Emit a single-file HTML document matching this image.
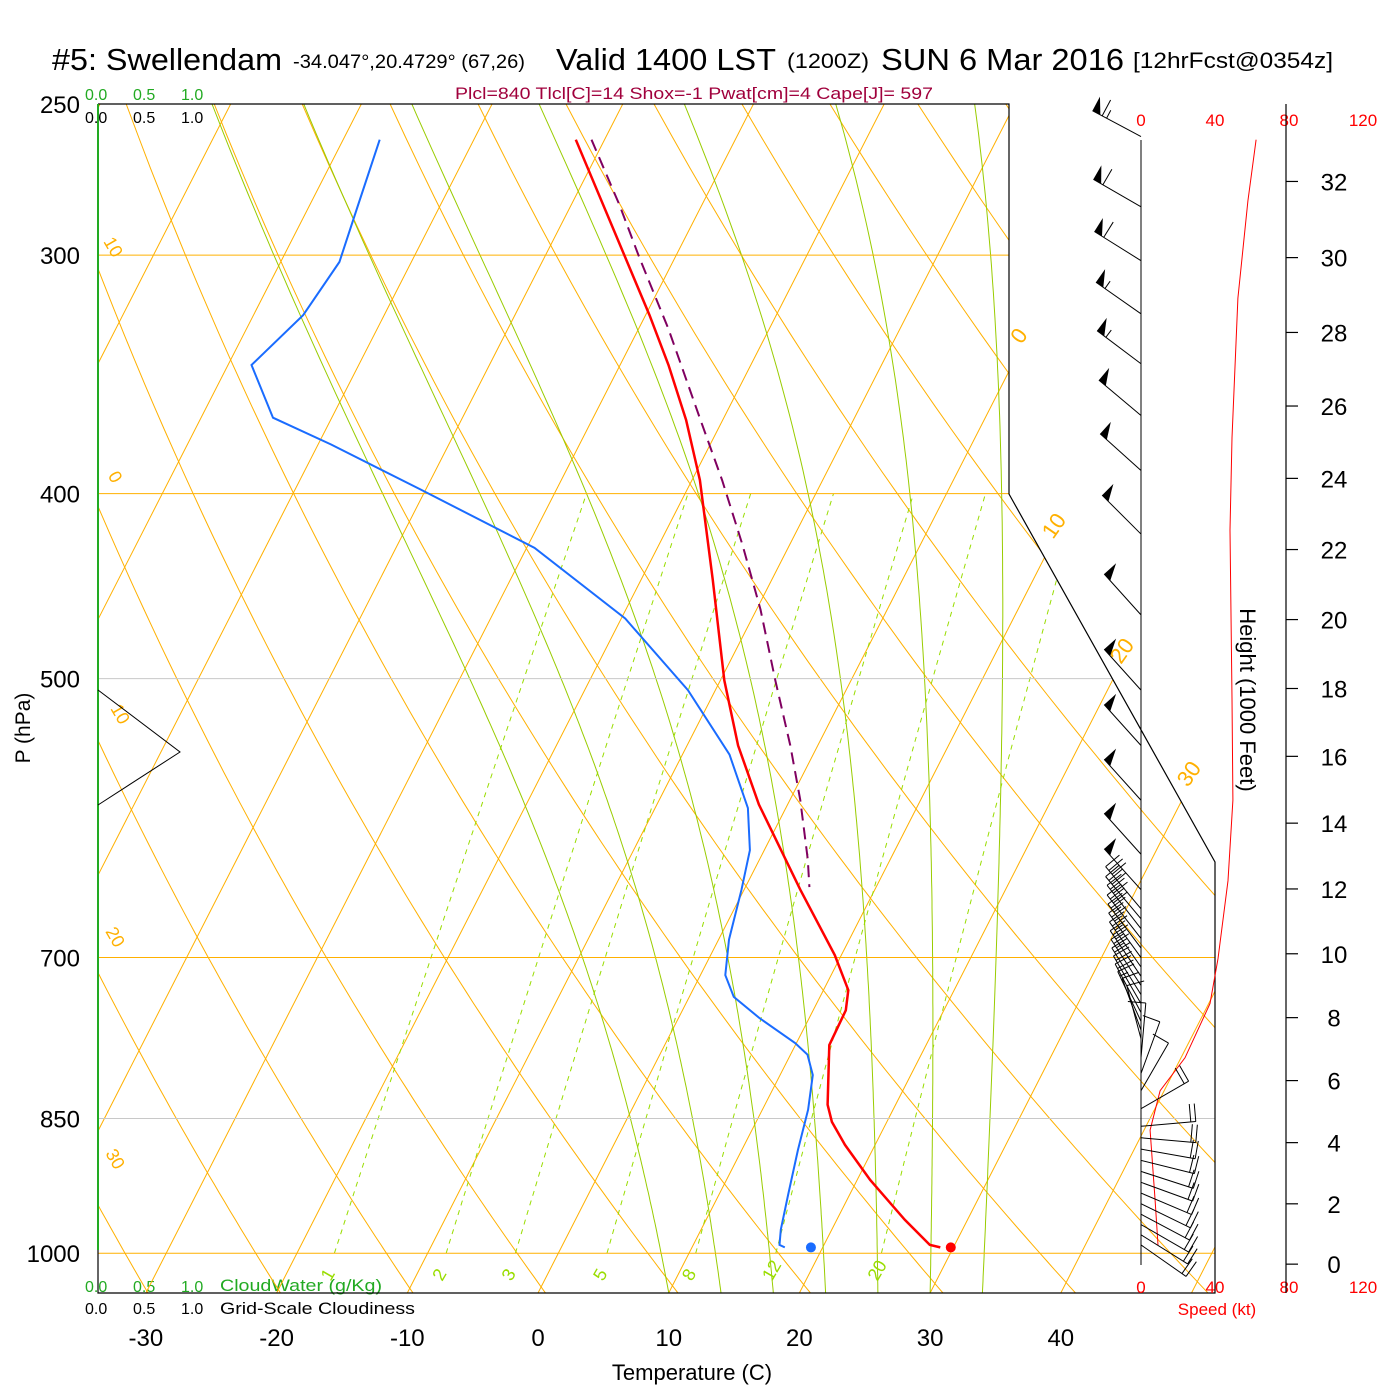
<!DOCTYPE html>
<html><head><meta charset="utf-8">
<style>
html,body{margin:0;padding:0;background:#fff;}
svg{display:block;font-family:"Liberation Sans",sans-serif;}
</style></head>
<body>
<svg id="chart" width="1400" height="1400" viewBox="0 0 1400 1400" xmlns="http://www.w3.org/2000/svg">
<defs><clipPath id="plotclip"><polygon points="98,104 1009,104 1009,494 1215,862 1215,1293 98,1293"/></clipPath></defs>
<rect width="1400" height="1400" fill="#fff"/>
<g id="title" fill="#000">
<text x="52" y="70" font-size="31" textLength="230" lengthAdjust="spacingAndGlyphs">#5: Swellendam</text>
<text x="293" y="68" font-size="19" textLength="232" lengthAdjust="spacingAndGlyphs">-34.047°,20.4729° (67,26)</text>
<text x="556" y="70" font-size="31" textLength="220" lengthAdjust="spacingAndGlyphs">Valid 1400 LST</text>
<text x="787" y="68" font-size="21" textLength="82" lengthAdjust="spacingAndGlyphs">(1200Z)</text>
<text x="881" y="70" font-size="31" textLength="243" lengthAdjust="spacingAndGlyphs">SUN 6 Mar 2016</text>
<text x="1133" y="68" font-size="22" textLength="200" lengthAdjust="spacingAndGlyphs">[12hrFcst@0354z]</text>
</g>
<text x="455" y="99" font-size="17" fill="#a0003c" textLength="478" lengthAdjust="spacingAndGlyphs">Plcl=840 Tlcl[C]=14 Shox=-1 Pwat[cm]=4 Cape[J]= 597</text>
<g font-size="16">
<text x="85" y="100" fill="#22aa22">0.0</text><text x="133" y="100" fill="#22aa22">0.5</text><text x="181" y="100" fill="#22aa22">1.0</text>
<text x="85" y="123" fill="#000">0.0</text><text x="133" y="123" fill="#000">0.5</text><text x="181" y="123" fill="#000">1.0</text>
</g>
<g font-size="16">
<text x="85" y="1292" fill="#22aa22">0.0</text><text x="133" y="1292" fill="#22aa22">0.5</text><text x="181" y="1292" fill="#22aa22">1.0</text>
<text x="220" y="1291" fill="#22aa22" font-size="17" textLength="162" lengthAdjust="spacingAndGlyphs">CloudWater (g/Kg)</text>
<text x="85" y="1314" fill="#000">0.0</text><text x="133" y="1314" fill="#000">0.5</text><text x="181" y="1314" fill="#000">1.0</text>
<text x="220" y="1314" fill="#000" font-size="17" textLength="195" lengthAdjust="spacingAndGlyphs">Grid-Scale Cloudiness</text>
</g>
<g id="bg" clip-path="url(#plotclip)"></g>
<g id="fg"></g>
<text transform="translate(30,728) rotate(-90)" font-size="21" text-anchor="middle">P (hPa)</text>
<text x="692" y="1380" font-size="22" text-anchor="middle">Temperature (C)</text>
<text transform="translate(1240,700) rotate(90)" font-size="22" text-anchor="middle">Height (1000 Feet)</text>
<text x="1217" y="1315" font-size="17" fill="#ff0000" text-anchor="middle">Speed (kt)</text>
<script>
// ---- data ----
const tempP = [261,322.5,342.5,366,393.5,444,501,542,582,645,698,728,746,778,836,853.5,877.5,915.5,960.5,990,993];
const tempT = [-42.2,-29.7,-26.3,-22.8,-19.4,-14.5,-9.7,-6.1,-2.2,4.3,9.5,11.9,12.5,12.6,14.8,15.8,17.7,21.0,25.2,28.1,29.0];
const dewP = [261,282.4,302.5,322.5,342.5,365,377,398,427,465,507,548,584.5,615,645,685,715,734,753,776,787,806.5,841,883,932,972,990,993];
const dewT = [-57.2,-56.3,-55.5,-56.2,-58.2,-54.5,-49.0,-40.4,-29.4,-19.7,-12.1,-6.4,-2.9,-1.1,-0.2,0.8,1.9,3.4,6.2,9.9,11.3,12.5,13.5,14.3,15.3,16.1,16.6,17.1];
const parcelP = [261,282.4,301,328,366,393.5,425.5,460,501,542,579,622,643];
const parcelT = [-41.0,-36.3,-32.7,-27.7,-21.7,-17.7,-13.6,-9.7,-5.8,-2.1,0.8,3.7,4.9];
const sfcTemp = [993,29.8];
const sfcDew = [993,19.1];
const speedP = [990,938,862,822,790,740,701,638,579,512,418,374,316,281,261];
const speedKt = [9.2,7.6,4.9,10.3,23.8,37.3,41.6,47,49.7,49.2,48.1,49.2,52.4,57.8,62.2];
const barbP = [260,283,302,322,342,364,389,420,463,507,542,579,618,645,660,668,676,684,692,700,708,716,724,732,740,748,756,764,772,790,805,822,840,858,870,882,894,906,918,930,942,954,966,978,990];
const barbDir = [298,300,302,305,307,310,312,315,318,318,318,318,318,318,320,320,322,322,323,324,325,326,327,328,330,332,335,340,345,5,20,30,60,85,95,100,104,108,110,113,116,118,120,122,125];
const barbSpd = [65,62,58,57,55,52,50,50,50,50,50,50,50,50,30,30,28,28,27,26,25,25,24,22,20,18,15,12,10,8,10,12,18,20,22,22,22,22,22,22,20,20,20,18,18];
const pLevels = [250,300,400,500,700,850,1000];
const pLevelOrange = [1,1,1,0,1,0,1];
const tTicks = [-30,-20,-10,0,10,20,30,40];
const hTicks = [0,2,4,6,8,10,12,14,16,18,20,22,24,26,28,30,32];
const spdTicks = [0,40,80,120];
const isoT = [-110,-100,-90,-80,-70,-60,-50,-40,-30,-20,-10,0,10,20,30,40,50];
const thetaK = [230,240,250,260,270,280,290,300,310,320,330,340,350,360,370,380,390,400,410,420,430,440,450,460,470,480];
const moistStart = [10,14,18,22,26,30,34];
const mixW = [1,2,3,5,8,12,20];

// ---- scales ----
const NS="http://www.w3.org/2000/svg";
function yP(p){return 104+829*Math.log(p/250);}
function xT(T,p){return 538+13.07*T+0.511*(1293-yP(p));}
function xSpd(s){return 1141+1.85*s;}
function pH(hk){return 1013.25*Math.pow(1-6.8756e-6*hk*1000,5.2559);}
const bg=document.getElementById('bg'), fg=document.getElementById('fg');
function el(tag,attrs,parent){const e=document.createElementNS(NS,tag);for(const k in attrs)e.setAttribute(k,attrs[k]);parent.appendChild(e);return e;}
function pts(arr){return arr.map(a=>a[0].toFixed(1)+','+a[1].toFixed(1)).join(' ');}

// isotherms
isoT.forEach(T=>{
 const e=el('line',{x1:xT(T,1050),y1:yP(1050),x2:xT(T,240),y2:yP(240),stroke:'#ffb000','stroke-width':1},bg);
 
 
});
// dry adiabats
thetaK.forEach(th=>{
 const a=[];for(let p=1050;p>=240;p-=10){a.push([xT(th*Math.pow(p/1000,0.2857)-273.15,p),yP(p)]);}
 const e=el('polyline',{points:pts(a),fill:'none',stroke:'#ffb000','stroke-width':1},bg);
 
 
});
// moist adiabats
function es(Tc){return 6.112*Math.exp(17.67*Tc/(Tc+243.5));}
moistStart.forEach(T0=>{
 let T=T0+273.15,p=1049;const a=[[xT(T0,p),yP(p)]];
 while(p>240){const e_=es(T-273.15);const rs=0.622*e_/(p-e_);const Lv=2.5e6,Rd=287,cp=1005;
  const dTdp=(1/p)*(Rd*T+Lv*rs)/(cp+(Lv*Lv*rs*0.622)/(Rd*T*T));T-=dTdp*5;p-=5;a.push([xT(T-273.15,p),yP(p)]);}
 const e=el('polyline',{points:pts(a),fill:'none',stroke:'#99cc00','stroke-width':1},bg);
 
 
});
// mixing ratio lines
mixW.forEach(w=>{
 const a=[];for(let p=1000;p>=400;p-=10){const e_=w*p/(622+w);const l=Math.log(e_/6.112);const td=243.5*l/(17.67-l);a.push([xT(td,p),yP(p)]);}
 const e=el('polyline',{points:pts(a),fill:'none',stroke:'#99dd00','stroke-width':1,'stroke-dasharray':'5,5'},bg);
 
 
 const l=Math.log((w*1000/(622+w))/6.112);const td=243.5*l/(17.67-l);
 const t=el('text',{x:xT(td,1000)-4,y:1282,'font-size':18,fill:'#99dd00',transform:'rotate(-60 '+(xT(td,1000)-4)+' 1282)'},fg);
 t.textContent=w;
 
 
});
// pressure lines & labels
pLevels.forEach((p,i)=>{
 const e=el('line',{x1:98,y1:yP(p),x2:1215,y2:yP(p),stroke:pLevelOrange[i]?'#ffb000':'#c8c8c8','stroke-width':1},bg);
 
 
 const t=el('text',{x:80,y:yP(p)+9,'font-size':24,'text-anchor':'end'},fg);
 t.textContent=p;
 
 
});
// isotherm labels
[['0',1025,340],['10',1060,530],['20',1128,655],['30',1195,778]].forEach(d=>{
 const t=el('text',{x:d[1],y:d[2],'font-size':22,fill:'#ffb000','text-anchor':'middle',transform:'rotate(-55 '+d[1]+' '+d[2]+')'},fg);
 t.textContent=d[0];
 
 
});
[['10',108,250],['0',110,480],['10',115,717],['20',110,940],['30',110,1162]].forEach(d=>{
 const t=el('text',{x:d[1],y:d[2],'font-size':18,fill:'#ffb000','text-anchor':'middle',transform:'rotate(60 '+d[1]+' '+d[2]+')'},fg);
 t.textContent=d[0];
 
 
});
// frames
const fr=el('polyline',{points:'98,104 1009,104 1009,494 1215,862 1215,1293 98,1293 98,104',fill:'none',stroke:'#000','stroke-width':1.2},fg);


const gl=el('line',{x1:98,y1:104,x2:98,y2:1250,stroke:'#22aa22','stroke-width':2},fg);


const wedge=el('polyline',{points:'98,690 180,752 98,805',fill:'none',stroke:'#000','stroke-width':1},fg);


const sa=el('line',{x1:1141,y1:140,x2:1141,y2:1265,stroke:'#000','stroke-width':1},fg);


// x ticks
tTicks.forEach(T=>{
 const t=el('text',{x:538+13.07*T,y:1346,'font-size':24,'text-anchor':'middle'},fg);
 t.textContent=T;
 
 
});
// speed ticks
spdTicks.forEach(s=>{
 [126,1293].forEach(yy=>{
 const t=el('text',{x:xSpd(s),y:yy,'font-size':17,fill:'#ff0000','text-anchor':'middle'},fg);
 t.textContent=s;
 
 
 });
});
// height axis
const ha=el('line',{x1:1286,y1:104,x2:1286,y2:1293,stroke:'#000','stroke-width':1.2},fg);


hTicks.forEach(h=>{
 const y=yP(pH(h));
 const k=el('line',{x1:1286,y1:y,x2:1298,y2:y,stroke:'#000','stroke-width':1.2},fg);
 
 
 const t=el('text',{x:1334,y:y+9,'font-size':24,'text-anchor':'middle'},fg);
 t.textContent=h;
 
 
});
// speed profile
const sp=el('polyline',{points:pts(speedP.map((p,i)=>[xSpd(speedKt[i]),yP(p)])),fill:'none',stroke:'#ff0000','stroke-width':1},fg);


// barbs
barbP.forEach((p,i)=>{
 const g=el('g',{},fg);
 
 
 const d=barbDir[i]*Math.PI/180, ux=Math.sin(d), uy=-Math.cos(d);
 const bx=1141,by=yP(p),L=55, tx=bx+ux*L, ty=by+uy*L;
 el('line',{x1:bx,y1:by,x2:tx,y2:ty,stroke:'#000','stroke-width':1},g);
 const nx=-uy, ny=ux; const s=(ny<0)?1:-1; const fx=nx*s, fy=ny*s;
 let rem=Math.round(barbSpd[i]/5)*5, pos=0;
 while(rem>=50){const ax=tx-ux*pos,ay=ty-uy*pos,cx=tx-ux*(pos+9),cy=ty-uy*(pos+9);
  el('polygon',{points:ax+','+ay+' '+(ax+fx*16)+','+(ay+fy*16)+' '+cx+','+cy,fill:'#000'},g);pos+=11;rem-=50;}
 while(rem>=10){const ax=tx-ux*pos,ay=ty-uy*pos;el('line',{x1:ax,y1:ay,x2:ax+fx*18,y2:ay+fy*18,stroke:'#000','stroke-width':1},g);pos+=5;rem-=10;}
 if(rem>=5){if(pos===0)pos=5;const ax=tx-ux*pos,ay=ty-uy*pos;el('line',{x1:ax,y1:ay,x2:ax+fx*9,y2:ay+fy*9,stroke:'#000','stroke-width':1},g);}
});
// profiles
const pc=el('polyline',{points:pts(parcelP.map((p,i)=>[xT(parcelT[i],p),yP(p)])),fill:'none',stroke:'#800060','stroke-width':2,'stroke-dasharray':'12,7'},fg);


const tl=el('polyline',{points:pts(tempP.map((p,i)=>[xT(tempT[i],p),yP(p)])),fill:'none',stroke:'#ff0000','stroke-width':2.5},fg);


const dl=el('polyline',{points:pts(dewP.map((p,i)=>[xT(dewT[i],p),yP(p)])),fill:'none',stroke:'#1a6cff','stroke-width':2},fg);


const td=el('circle',{cx:xT(sfcTemp[1],sfcTemp[0]),cy:yP(sfcTemp[0]),r:5,fill:'#ff0000'},fg);


const dd=el('circle',{cx:xT(sfcDew[1],sfcDew[0]),cy:yP(sfcDew[0]),r:5,fill:'#1a6cff'},fg);


</script>
</svg>
</body></html>
